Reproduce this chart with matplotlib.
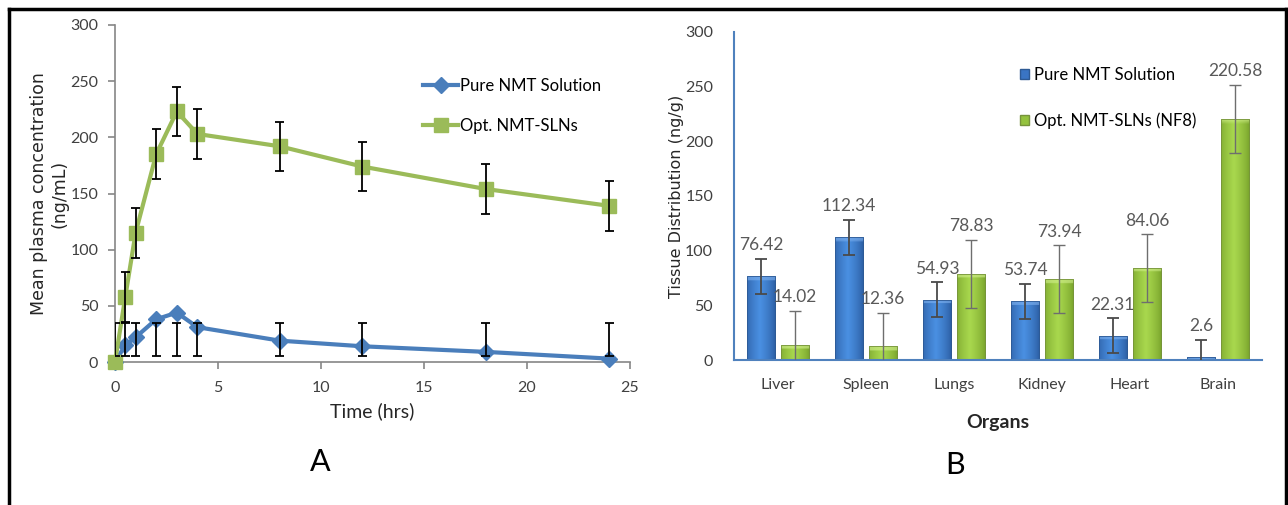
import numpy as np
import matplotlib
matplotlib.use("Agg")
import matplotlib.pyplot as plt
from matplotlib.lines import Line2D
from matplotlib.patches import Patch

plt.rcParams['font.family'] = ['Lato', 'DejaVu Sans']

# ------------------------------
# Data: panel A (plasma profile)
# ------------------------------
time_hrs = [0, 0.5, 1, 2, 3, 4, 8, 12, 18, 24]
pure_conc = [0, 15, 22, 38, 44, 31, 19, 14, 9, 3]
pure_err_lo = [5, 5, 5, 5, 5, 5, 5, 5, 5, 5]
pure_err_hi = [35, 35, 35, 35, 35, 35, 35, 35, 35, 35]
sln_conc = [0, 58, 115, 185, 223, 203, 192, 174, 154, 139]
sln_err = [0, 22, 22, 22, 22, 22, 22, 22, 22, 22]

# ------------------------------
# Data: panel B (tissue distribution)
# ------------------------------
organs = ["Liver", "Spleen", "Lungs", "Kidney", "Heart", "Brain"]
pure_tissue = [76.42, 112.34, 54.93, 53.74, 22.31, 2.6]
pure_tissue_err = [16, 16, 16, 16, 16, 16]
sln_tissue = [14.02, 12.36, 78.83, 73.94, 84.06, 220.58]
sln_tissue_err = [31, 31, 31, 31, 31, 31]

BLUE = "#4A7EBB"
GREEN = "#9BBB59"
W, H = 1288, 505

fig = plt.figure(figsize=(W / 100, H / 100), dpi=100)

# ------------------------------
# Panel A
# ------------------------------
ax1 = fig.add_axes([115 / W, 1 - 362 / H, 515 / W, 337 / H])
ax1.plot(time_hrs, pure_conc, color=BLUE, lw=3, marker="D", ms=8,
         label="Pure NMT Solution", zorder=3, clip_on=False, solid_joinstyle="round")
ax1.plot(time_hrs, sln_conc, color=GREEN, lw=3, marker="s", ms=10,
         label="Opt. NMT-SLNs", zorder=4, clip_on=False, solid_joinstyle="round")

# error bars (blue ones are drawn between fixed bounds)
t = np.array(time_hrs)
ax1.vlines(t, pure_err_lo, pure_err_hi, color="black", lw=1.3, zorder=5)
ax1.hlines(pure_err_lo, t - 0.22, t + 0.22, color="black", lw=1.3, zorder=5)
ax1.hlines(pure_err_hi, t - 0.22, t + 0.22, color="black", lw=1.3, zorder=5)
s = np.array(sln_conc)
e = np.array(sln_err)
m = e > 0
ax1.vlines(t[m], (s - e)[m], (s + e)[m], color="black", lw=1.3, zorder=5)
ax1.hlines((s - e)[m], t[m] - 0.22, t[m] + 0.22, color="black", lw=1.3, zorder=5)
ax1.hlines((s + e)[m], t[m] - 0.22, t[m] + 0.22, color="black", lw=1.3, zorder=5)

ax1.set_xlim(0, 25)
ax1.set_ylim(0, 300)
ax1.set_xticks(range(0, 26, 5))
ax1.set_yticks(range(0, 301, 50))
for sp in ["top", "right"]:
    ax1.spines[sp].set_visible(False)
for sp in ["left", "bottom"]:
    ax1.spines[sp].set_color("#868686")
    ax1.spines[sp].set_linewidth(1.2)
ax1.tick_params(colors="#868686", labelcolor="#404040", labelsize=11.5, length=5, width=1.2)
ax1.tick_params(axis="x", pad=9)
ax1.tick_params(axis="y", pad=7)
ax1.set_xlabel("Time (hrs)", fontsize=14, color="#262626", labelpad=5)
ax1.set_ylabel("Mean plasma concentration\n(ng/mL)", fontsize=12.5, family="DejaVu Sans",
               color="#262626", labelpad=1, linespacing=1.2)
ax1.legend(loc="upper left", bbox_to_anchor=(423 / W, 1 - 78 / H), bbox_transform=fig.transFigure,
           frameon=False, fontsize=12, handlelength=2.1, handletextpad=0.1, labelspacing=1.45,
           borderpad=0, borderaxespad=0, numpoints=1)
fig.text(320 / W, 1 - 462 / H, "A", fontsize=22, ha="center", va="center")

# ------------------------------
# Panel B
# ------------------------------
ax2 = fig.add_axes([734 / W, 1 - 360 / H, 528 / W, 328 / H])
x = np.arange(len(organs))
bw = 0.32
off = 0.195
b1 = ax2.bar(x - off, pure_tissue, bw, color="none", edgecolor="#2E5A94", lw=0.6, zorder=2)
b2 = ax2.bar(x + off, sln_tissue, bw, color="none", edgecolor="#76933C", lw=0.6, zorder=2)


def shade(bars, dark, light, top):
    # horizontal gradient inside each bar, with a lighter top edge
    cd = np.array(matplotlib.colors.to_rgb(dark))
    cl = np.array(matplotlib.colors.to_rgb(light))
    ct = np.array(matplotlib.colors.to_rgb(top))
    u = np.linspace(0, 1, 40)
    wgt = 1 - np.abs(u - 0.45) / 0.55
    wgt = np.clip(wgt, 0, 1) ** 0.7
    row = cd[None, :] * (1 - wgt[:, None]) + cl[None, :] * wgt[:, None]
    for r in bars:
        x0, w, h = r.get_x(), r.get_width(), r.get_height()
        nrow = 60
        img = np.repeat(row[None, :, :], nrow, axis=0)
        band = max(1, int(nrow * min(1.0, 4.0 / max(h, 1e-6))))
        img[:band] = img[:band] * 0.4 + ct * 0.6
        im = ax2.imshow(img, extent=[x0, x0 + w, 0, h], aspect="auto", zorder=1.5,
                        interpolation="bilinear")
        im.set_clip_path(r)


shade(b1, "#2A5A9E", "#4A90E2", "#7FB2F0")
shade(b2, "#76A02A", "#A9D84E", "#D2F08E")
ax2.set_xlim(-0.5, len(organs) - 0.5)
ax2.set_ylim(0, 300)

ax2.errorbar(x - off, pure_tissue, yerr=pure_tissue_err, fmt="none", ecolor="#4A4A4A",
             elinewidth=1.3, capsize=4, capthick=1.3, zorder=3)
ax2.errorbar(x + off, sln_tissue, yerr=sln_tissue_err, fmt="none", ecolor="#6E6E6E",
             elinewidth=1.0, capsize=4, capthick=1.0, zorder=3)

for xi, v, er in zip(x - off, pure_tissue, pure_tissue_err):
    ax2.annotate(f"{v:g}", (xi, v + er), xytext=(0, 4), textcoords="offset points",
                 ha="center", va="bottom", fontsize=12.5, color="#595959")
for xi, v, er in zip(x + off, sln_tissue, sln_tissue_err):
    ax2.annotate(f"{v:g}", (xi, v + er), xytext=(0, 4), textcoords="offset points",
                 ha="center", va="bottom", fontsize=12.5, color="#595959")

ax2.set_xticks(x)
ax2.set_xticklabels(organs)
ax2.set_yticks(range(0, 301, 50))
for sp in ["top", "right"]:
    ax2.spines[sp].set_visible(False)
for sp in ["left", "bottom"]:
    ax2.spines[sp].set_color("#4F81BD")
    ax2.spines[sp].set_linewidth(1.5)
ax2.tick_params(length=0, labelcolor="#404040", labelsize=11.5)
ax2.tick_params(axis="x", pad=13)
ax2.tick_params(axis="y", pad=15)
ax2.set_xlabel("Organs", fontsize=14, fontweight="bold", color="#262626", labelpad=16)
ax2.set_ylabel("Tissue Distribution (ng/g)", fontsize=11.5, family="DejaVu Sans",
               color="#262626", labelpad=1)
handles = [Patch(facecolor="#3A75C4", edgecolor="#2E5A94", label="Pure NMT Solution"),
           Patch(facecolor="#94C23E", edgecolor="#76933C", label="Opt. NMT-SLNs (NF8)")]
ax2.legend(handles=handles, loc="upper left", bbox_to_anchor=(1020 / W, 1 - 67 / H),
           bbox_transform=fig.transFigure, frameon=False, fontsize=12, handlelength=0.55,
           handleheight=0.55, handletextpad=0.3, labelspacing=1.75, borderpad=0, borderaxespad=0)
fig.text(955 / W, 1 - 465 / H, "B", fontsize=22, ha="center", va="center")

# outer frame
for xs, ys in [((9, 1286), (9, 9)), ((9, 9), (9, 510)), ((1286, 1286), (9, 510))]:
    fig.add_artist(Line2D([v / W for v in xs], [1 - v / H for v in ys], color="black",
                          lw=2.5, transform=fig.transFigure))

fig.savefig("out.png", dpi=100)
